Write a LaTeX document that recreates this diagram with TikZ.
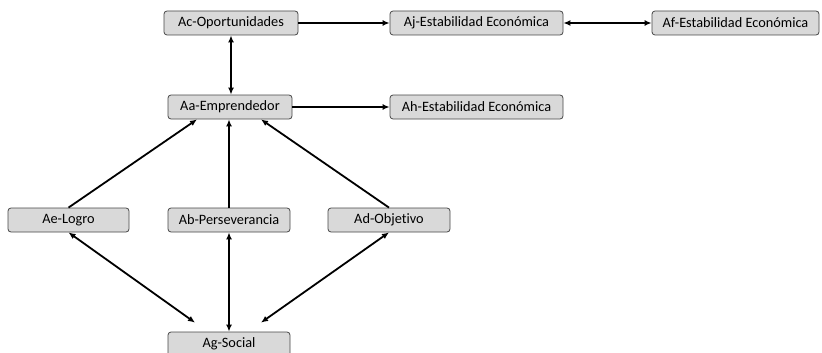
\documentclass[tikz,border=0pt]{standalone}
\usepackage{fontspec}
\setmainfont[Ligatures=NoCommon]{Carlito}
\usetikzlibrary{arrows.meta}
\definecolor{boxfill}{RGB}{217,217,217}
\definecolor{boxline}{RGB}{70,70,70}
\tikzset{
	concept/.style={draw=boxline, fill=boxfill, rounded corners=3pt, line width=0.8pt, minimum height=24pt, inner sep=0pt, font=\fontsize{14.3}{17}\selectfont},
	link/.style={line width=1.8pt, -{Latex[length=7pt,width=6pt]}},
	twolink/.style={line width=1.8pt, {Latex[length=7pt,width=6pt]}-{Latex[length=7pt,width=6pt]}}
}
\begin{document}
\begin{tikzpicture}[x=1pt, y=-1pt]
	\useasboundingbox (0,0) rectangle (822,353);

	\node[concept, minimum width=134pt] (ac) at (231,23) {Ac-Oportunidades};
	\node[concept, minimum width=173pt] (aj) at (476.5,23) {Aj-Estabilidad Económica};
	\node[concept, minimum width=167pt] (af) at (735.5,23) {Af-Estabilidad Económica};
	\node[concept, minimum width=124pt] (aa) at (230,107) {Aa-Emprendedor};
	\node[concept, minimum width=173pt] (ah) at (476.5,107) {Ah-Estabilidad Económica};
	\node[concept, minimum width=121pt] (ae) at (68.5,220) {Ae-Logro};
	\node[concept, minimum width=122pt] (ab) at (229,220) {Ab-Perseverancia};
	\node[concept, minimum width=122pt] (ad) at (389,220) {Ad-Objetivo};
	\node[concept, minimum width=122pt] (ag) at (229,344) {Ag-Social};

	\draw[link] (ac.east) -- (aj.west);
	\draw[twolink] (aj.east) -- (af.west);
	\draw[twolink] (ac.south) -- (ac.south |- aa.north);
	\draw[link] (aa.east) -- (ah.west);

	\draw[link] (ae.north) -- ([xshift=-33pt]aa.south);
	\draw[link] (ab.north) -- (ab.north |- aa.south);
	\draw[link] (ad.north) -- ([xshift=31pt]aa.south);

	\draw[twolink] (ae.south) -- ([shift={(-34,-9)}]ag.north);
	\draw[twolink] (ab.south) -- (ag.north);
	\draw[twolink] (ad.south) -- ([shift={(32,-9)}]ag.north);

\end{tikzpicture}
\end{document}
